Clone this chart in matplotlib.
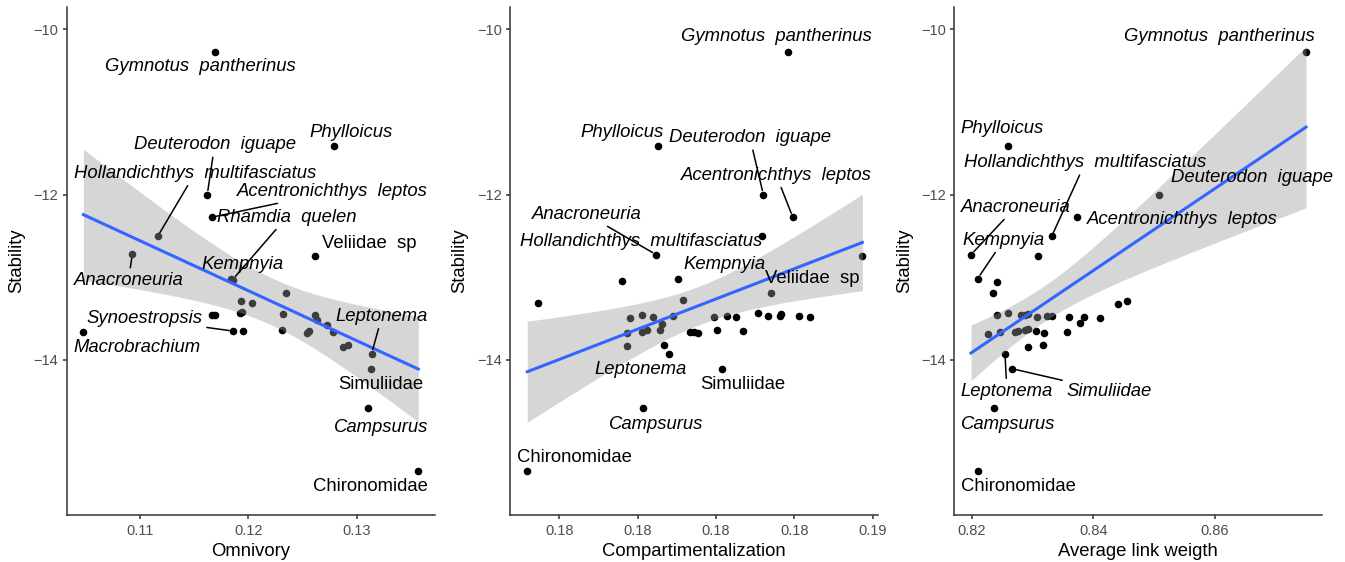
import numpy as np
import matplotlib
matplotlib.use("Agg")
import matplotlib.pyplot as plt

plt.rcParams['font.family'] = ['Liberation Sans', 'DejaVu Sans']

# ---------------- data ----------------
# Omnivory panel
omn_names = ['Gymnotus  pantherinus', 'Phylloicus', 'Deuterodon  iguape', 'Acentronichthys  leptos',
             'Hollandichthys  multifasciatus', 'Anacroneuria', 'Veliidae  sp', 'Kempnyia', 'Rhamdia  quelen',
             'Macrobrachium', 'Synoestropsis', 'Leptonema', 'Simuliidae', 'Campsurus', 'Chironomidae'] + [''] * 18
omn_x = [0.11692, 0.12793, 0.11621, 0.11667, 0.11163, 0.10929, 0.12615, 0.11840, 0.11855,
         0.10477, 0.11861, 0.13138, 0.13132, 0.13107, 0.13569,
         0.12345, 0.11929, 0.12036, 0.11662, 0.11692, 0.11923, 0.11939, 0.12317, 0.12615,
         0.12631, 0.11953, 0.12313, 0.12539, 0.12563, 0.12723, 0.12784, 0.12876, 0.12922]
omn_y = [-10.272, -11.418, -12.000, -12.274, -12.507, -12.724, -12.746, -13.018, -13.030,
         -13.666, -13.654, -13.926, -14.110, -14.584, -15.352,
         -13.196, -13.286, -13.317, -13.459, -13.459, -13.438, -13.419, -13.450, -13.459,
         -13.519, -13.649, -13.640, -13.680, -13.649, -13.580, -13.661, -13.843, -13.822]

# Compartimentalization panel
comp_names = ['Gymnotus  pantherinus', 'Phylloicus', 'Deuterodon  iguape', 'Acentronichthys  leptos',
              'Hollandichthys  multifasciatus', 'Anacroneuria', 'Veliidae  sp', 'Kempnyia',
              'Leptonema', 'Simuliidae', 'Campsurus', 'Chironomidae'] + [''] * 29
comp_x = [0.18481, 0.18066, 0.18401, 0.18495, 0.18398, 0.18059, 0.18717, 0.18130,
          0.18100, 0.18270, 0.18018, 0.17648,
          0.17681, 0.17951, 0.18146, 0.17976, 0.18013, 0.18048, 0.18112, 0.17965, 0.18013,
          0.18029, 0.18071, 0.18077, 0.17965, 0.18085, 0.18167, 0.18180, 0.18194, 0.18425,
          0.18244, 0.18284, 0.18314, 0.18385, 0.18417, 0.18454, 0.18457, 0.18516, 0.18550,
          0.18252, 0.18337]
comp_y = [-10.272, -11.418, -12.000, -12.274, -12.507, -12.728, -12.746, -13.018,
          -13.926, -14.110, -14.584, -15.352,
          -13.312, -13.052, -13.277, -13.499, -13.459, -13.479, -13.471, -13.673, -13.661,
          -13.640, -13.640, -13.568, -13.839, -13.817, -13.665, -13.659, -13.677, -13.196,
          -13.479, -13.471, -13.479, -13.431, -13.471, -13.471, -13.447, -13.471, -13.479,
          -13.640, -13.649]
comp_ticks = [0.1775, 0.18, 0.1825, 0.185, 0.1875]
comp_ticklabels = ['0.18', '0.18', '0.18', '0.18', '0.19']

# Average link weigth panel
alw_names = ['Gymnotus  pantherinus', 'Phylloicus', 'Deuterodon  iguape', 'Acentronichthys  leptos',
             'Hollandichthys  multifasciatus', 'Anacroneuria', 'Veliidae  sp', 'Kempnyia',
             'Leptonema', 'Simuliidae', 'Campsurus', 'Chironomidae'] + [''] * 27
alw_x = [0.87496, 0.82602, 0.85079, 0.83737, 0.83315, 0.81989, 0.83085, 0.82099,
         0.82547, 0.82668, 0.82372, 0.82099,
         0.82421, 0.82355, 0.82421, 0.82592, 0.82806, 0.82876, 0.82931, 0.83079, 0.83243,
         0.83325, 0.83600, 0.83781, 0.83851, 0.84109, 0.84410, 0.84558, 0.82273, 0.82465,
         0.82712, 0.82766, 0.82876, 0.82931, 0.83057, 0.83189, 0.83562, 0.82931, 0.83177]
alw_y = [-10.272, -11.418, -12.000, -12.274, -12.507, -12.728, -12.746, -13.018,
         -13.926, -14.110, -14.584, -15.352,
         -13.063, -13.196, -13.459, -13.431, -13.459, -13.459, -13.450, -13.479, -13.471,
         -13.467, -13.479, -13.559, -13.479, -13.499, -13.326, -13.286, -13.685, -13.661,
         -13.661, -13.652, -13.640, -13.632, -13.652, -13.680, -13.661, -13.847, -13.817]

# ---------------- label placement (text centre, italic, draw segment) ----------------
omn_labels = {
    'Gymnotus  pantherinus': (0.1156, -10.446, True, False),
    'Phylloicus': (0.12947, -11.254, True, False),
    'Deuterodon  iguape': (0.11689, -11.396, True, True),
    'Hollandichthys  multifasciatus': (0.11508, -11.742, True, True),
    'Acentronichthys  leptos': (0.12775, -11.967, True, True),
    'Rhamdia  quelen': (0.12354, -12.274, True, True),
    'Veliidae  sp': (0.13114, -12.598, False, False),
    'Kempnyia': (0.11944, -12.845, True, False),
    'Anacroneuria': (0.10892, -13.04, True, True),
    'Synoestropsis': (0.11043, -13.506, True, True),
    'Macrobrachium': (0.10975, -13.847, True, False),
    'Leptonema': (0.13234, -13.472, True, True),
    'Simuliidae': (0.13222, -14.306, False, False),
    'Campsurus': (0.13222, -14.826, True, False),
    'Chironomidae': (0.13123, -15.534, False, False),
}
comp_labels = {
    'Gymnotus  pantherinus': (0.18442, -10.091, True, False),
    'Phylloicus': (0.17949, -11.245, True, False),
    'Deuterodon  iguape': (0.18358, -11.31, True, True),
    'Acentronichthys  leptos': (0.18442, -11.764, True, True),
    'Anacroneuria': (0.17838, -12.24, True, True),
    'Hollandichthys  multifasciatus': (0.18012, -12.564, True, False),
    'Kempnyia': (0.18276, -12.845, True, False),
    'Veliidae  sp': (0.18557, -13.018, False, False),
    'Leptonema': (0.1801, -14.12, True, False),
    'Simuliidae': (0.18334, -14.306, False, False),
    'Campsurus': (0.18058, -14.79, True, False),
    'Chironomidae': (0.17799, -15.179, False, False),
}
alw_labels = {
    'Gymnotus  pantherinus': (0.86077, -10.091, True, False),
    'Phylloicus': (0.82503, -11.202, True, False),
    'Hollandichthys  multifasciatus': (0.83868, -11.613, True, True),
    'Deuterodon  iguape': (0.86603, -11.799, True, False),
    'Anacroneuria': (0.82723, -12.153, True, True),
    'Acentronichthys  leptos': (0.85469, -12.304, True, False),
    'Kempnyia': (0.82526, -12.551, True, True),
    'Leptonema': (0.8258, -14.38, True, True),
    'Simuliidae': (0.84257, -14.38, True, True),
    'Campsurus': (0.82602, -14.782, True, False),
    'Chironomidae': (0.82766, -15.534, False, False),
}


def tquant(df, z=1.959964):
    # Cornish-Fisher approximation of the 97.5% t quantile
    return z + (z**3 + z) / (4 * df) + (5 * z**5 + 16 * z**3 + 3 * z) / (96 * df**2)


def panel(ax, x, y, names, labels, xlabel, xlim):
    x = np.asarray(x)
    y = np.asarray(y)
    ax.scatter(x, y, s=30, color='black', zorder=2, linewidths=0)

    # lm fit + 95% confidence band
    n = len(x)
    b, a = np.polyfit(x, y, 1)
    xs = np.linspace(x.min(), x.max(), 100)
    res = y - (a + b * x)
    s = np.sqrt(np.sum(res**2) / (n - 2))
    se = s * np.sqrt(1 / n + (xs - x.mean())**2 / np.sum((x - x.mean())**2))
    t = tquant(n - 2)
    ax.fill_between(xs, a + b * xs - t * se, a + b * xs + t * se, color='#999999', alpha=0.4,
                    linewidth=0, zorder=3)
    ax.plot(xs, a + b * xs, color='#3366FF', lw=2.2, zorder=4)

    for nm, (tx, ty, ital, seg) in labels.items():
        i = names.index(nm)
        style = 'italic' if ital else 'normal'
        if seg:
            ax.annotate(nm, xy=(x[i], y[i]), xytext=(tx, ty), ha='center', va='center',
                        fontsize=13.3, fontstyle=style, color='black', zorder=5,
                        arrowprops=dict(arrowstyle='-', color='black', lw=1.1,
                                        shrinkA=1, shrinkB=3))
        else:
            ax.text(tx, ty, nm, ha='center', va='center', fontsize=13.3,
                    fontstyle=style, color='black', zorder=5)

    ax.set_xlim(xlim)
    ax.set_ylim(-15.884, -9.726)
    ax.set_yticks([-14, -12, -10])
    ax.set_xlabel(xlabel, fontsize=13.3, color='black', labelpad=4)
    ax.set_ylabel('Stability', fontsize=13.3, color='black', labelpad=6)
    for sp in ['top', 'right']:
        ax.spines[sp].set_visible(False)
    for sp in ['left', 'bottom']:
        ax.spines[sp].set_color('#333333')
        ax.spines[sp].set_linewidth(1.1)
    ax.tick_params(axis='both', colors='#333333', labelcolor='#4D4D4D', labelsize=10.5,
                   length=3, width=1.1, pad=3)


fig = plt.figure(figsize=(13.45, 5.62), dpi=100)
ax1 = fig.add_axes([0.0496, 0.0831, 0.2738, 0.905])
ax2 = fig.add_axes([0.3792, 0.0831, 0.2734, 0.905])
ax3 = fig.add_axes([0.7095, 0.0831, 0.2732, 0.905])

panel(ax1, omn_x, omn_y, omn_names, omn_labels, 'Omnivory', (0.10323, 0.13723))
ax1.set_xticks([0.11, 0.12, 0.13])

panel(ax2, comp_x, comp_y, comp_names, comp_labels, 'Compartimentalization', (0.17593, 0.18766))
ax2.set_xticks(comp_ticks)
ax2.set_xticklabels(comp_ticklabels)

panel(ax3, alw_x, alw_y, alw_names, alw_labels, 'Average link weigth', (0.81714, 0.87754))
ax3.set_xticks([0.82, 0.84, 0.86])

fig.savefig('out.png', dpi=100)
